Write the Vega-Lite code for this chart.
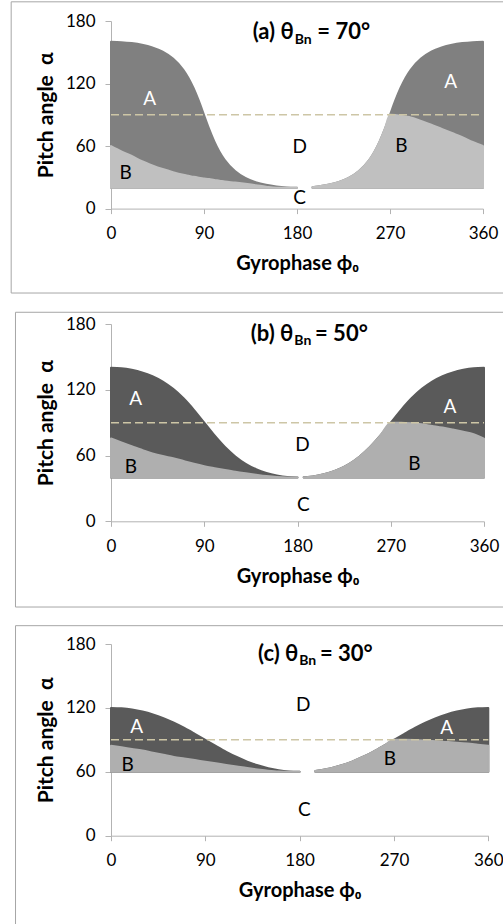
{
  "$schema": "https://vega.github.io/schema/vega-lite/v6.json",
  "padding": {"left": 10, "top": 1, "right": 0, "bottom": 0},
  "config": {
    "view": {"stroke": null},
    "font": "Lato, Noto Sans",
    "axis": {"domainColor": "#b3b3b3", "tickColor": "#b3b3b3", "labelColor": "#000000", "titleColor": "#000000", "labelFontSize": 17, "titleFontSize": 20, "titleFontWeight": "bold", "labelFont": "Lato, Noto Sans", "titleFont": "Lato, Noto Sans", "grid": false, "labelFlush": false},
    "text": {"font": "Lato, Noto Sans"}
  },
  "datasets": {
    "curves": [
      {"p": "a", "s": "L", "phi": 0, "lo": 20, "top": 160, "b": 60},
      {"p": "a", "s": "L", "phi": 10, "lo": 20, "top": 159.7, "b": 55},
      {"p": "a", "s": "L", "phi": 20, "lo": 20, "top": 158.8, "b": 50.5},
      {"p": "a", "s": "L", "phi": 30, "lo": 20, "top": 157.2, "b": 45.5},
      {"p": "a", "s": "L", "phi": 40, "lo": 20, "top": 154.6, "b": 41.5},
      {"p": "a", "s": "L", "phi": 50, "lo": 20, "top": 150.5, "b": 38},
      {"p": "a", "s": "L", "phi": 60, "lo": 20, "top": 143.9, "b": 35},
      {"p": "a", "s": "L", "phi": 70, "lo": 20, "top": 133.2, "b": 32.5},
      {"p": "a", "s": "L", "phi": 75, "lo": 20, "top": 125.4, "b": 31.5},
      {"p": "a", "s": "L", "phi": 80, "lo": 20, "top": 115.5, "b": 30.5},
      {"p": "a", "s": "L", "phi": 85, "lo": 20, "top": 103.5, "b": 29.7},
      {"p": "a", "s": "L", "phi": 90, "lo": 20, "top": 90, "b": 29},
      {"p": "a", "s": "L", "phi": 95, "lo": 20, "top": 76.5, "b": 28.3},
      {"p": "a", "s": "L", "phi": 100, "lo": 20, "top": 64.5, "b": 27.5},
      {"p": "a", "s": "L", "phi": 105, "lo": 20, "top": 54.6, "b": 26.8},
      {"p": "a", "s": "L", "phi": 110, "lo": 20, "top": 46.8, "b": 26},
      {"p": "a", "s": "L", "phi": 120, "lo": 20, "top": 36.1, "b": 25},
      {"p": "a", "s": "L", "phi": 130, "lo": 20, "top": 29.5, "b": 23.8},
      {"p": "a", "s": "L", "phi": 140, "lo": 20, "top": 25.4, "b": 22.5},
      {"p": "a", "s": "L", "phi": 150, "lo": 20, "top": 22.8, "b": 21},
      {"p": "a", "s": "L", "phi": 160, "lo": 20, "top": 21.2, "b": 20},
      {"p": "a", "s": "L", "phi": 170, "lo": 20, "top": 20.3, "b": 20},
      {"p": "a", "s": "L", "phi": 180, "lo": 20, "top": 20, "b": 20},
      {"p": "a", "s": "R", "phi": 195, "lo": 20, "top": 20.6, "b": 20.6},
      {"p": "a", "s": "R", "phi": 200, "lo": 20, "top": 21.2, "b": 21.2},
      {"p": "a", "s": "R", "phi": 210, "lo": 20, "top": 22.8, "b": 22.8},
      {"p": "a", "s": "R", "phi": 220, "lo": 20, "top": 25.4, "b": 25.4},
      {"p": "a", "s": "R", "phi": 230, "lo": 20, "top": 29.5, "b": 29.5},
      {"p": "a", "s": "R", "phi": 240, "lo": 20, "top": 36.1, "b": 36.1},
      {"p": "a", "s": "R", "phi": 250, "lo": 20, "top": 46.8, "b": 46.8},
      {"p": "a", "s": "R", "phi": 255, "lo": 20, "top": 54.6, "b": 54.6},
      {"p": "a", "s": "R", "phi": 260, "lo": 20, "top": 64.5, "b": 64.5},
      {"p": "a", "s": "R", "phi": 265, "lo": 20, "top": 76.5, "b": 76.5},
      {"p": "a", "s": "R", "phi": 270, "lo": 20, "top": 90, "b": 90},
      {"p": "a", "s": "R", "phi": 275, "lo": 20, "top": 103.5, "b": 89.7},
      {"p": "a", "s": "R", "phi": 280, "lo": 20, "top": 115.5, "b": 89},
      {"p": "a", "s": "R", "phi": 285, "lo": 20, "top": 125.4, "b": 88.3},
      {"p": "a", "s": "R", "phi": 290, "lo": 20, "top": 133.2, "b": 87.5},
      {"p": "a", "s": "R", "phi": 300, "lo": 20, "top": 143.9, "b": 84},
      {"p": "a", "s": "R", "phi": 310, "lo": 20, "top": 150.5, "b": 80.5},
      {"p": "a", "s": "R", "phi": 320, "lo": 20, "top": 154.6, "b": 76.5},
      {"p": "a", "s": "R", "phi": 330, "lo": 20, "top": 157.2, "b": 72.5},
      {"p": "a", "s": "R", "phi": 340, "lo": 20, "top": 158.8, "b": 68.5},
      {"p": "a", "s": "R", "phi": 350, "lo": 20, "top": 159.7, "b": 64},
      {"p": "a", "s": "R", "phi": 360, "lo": 20, "top": 160, "b": 60},

      {"p": "b", "s": "L", "phi": 0, "lo": 40, "top": 140, "b": 75.5},
      {"p": "b", "s": "L", "phi": 10, "lo": 40, "top": 139.6, "b": 72},
      {"p": "b", "s": "L", "phi": 20, "lo": 40, "top": 138.2, "b": 68.5},
      {"p": "b", "s": "L", "phi": 30, "lo": 40, "top": 135.9, "b": 65.2},
      {"p": "b", "s": "L", "phi": 40, "lo": 40, "top": 132.4, "b": 62},
      {"p": "b", "s": "L", "phi": 50, "lo": 40, "top": 127.5, "b": 59.5},
      {"p": "b", "s": "L", "phi": 60, "lo": 40, "top": 120.8, "b": 57.5},
      {"p": "b", "s": "L", "phi": 70, "lo": 40, "top": 112.2, "b": 55},
      {"p": "b", "s": "L", "phi": 80, "lo": 40, "top": 101.7, "b": 52.5},
      {"p": "b", "s": "L", "phi": 90, "lo": 40, "top": 90, "b": 50.3},
      {"p": "b", "s": "L", "phi": 100, "lo": 40, "top": 78.3, "b": 48.5},
      {"p": "b", "s": "L", "phi": 110, "lo": 40, "top": 67.8, "b": 46.8},
      {"p": "b", "s": "L", "phi": 120, "lo": 40, "top": 59.2, "b": 45.2},
      {"p": "b", "s": "L", "phi": 130, "lo": 40, "top": 52.5, "b": 43.8},
      {"p": "b", "s": "L", "phi": 140, "lo": 40, "top": 47.6, "b": 42.5},
      {"p": "b", "s": "L", "phi": 150, "lo": 40, "top": 44.1, "b": 41.3},
      {"p": "b", "s": "L", "phi": 160, "lo": 40, "top": 41.8, "b": 40.4},
      {"p": "b", "s": "L", "phi": 170, "lo": 40, "top": 40.4, "b": 40},
      {"p": "b", "s": "L", "phi": 180, "lo": 40, "top": 40, "b": 40},
      {"p": "b", "s": "R", "phi": 186, "lo": 40, "top": 40.15, "b": 40.15},
      {"p": "b", "s": "R", "phi": 190, "lo": 40, "top": 40.4, "b": 40.4},
      {"p": "b", "s": "R", "phi": 200, "lo": 40, "top": 41.8, "b": 41.8},
      {"p": "b", "s": "R", "phi": 210, "lo": 40, "top": 44.1, "b": 44.1},
      {"p": "b", "s": "R", "phi": 220, "lo": 40, "top": 47.6, "b": 47.6},
      {"p": "b", "s": "R", "phi": 230, "lo": 40, "top": 52.5, "b": 52.5},
      {"p": "b", "s": "R", "phi": 240, "lo": 40, "top": 59.2, "b": 59.2},
      {"p": "b", "s": "R", "phi": 250, "lo": 40, "top": 67.8, "b": 67.8},
      {"p": "b", "s": "R", "phi": 260, "lo": 40, "top": 78.3, "b": 78.3},
      {"p": "b", "s": "R", "phi": 270, "lo": 40, "top": 90, "b": 90},
      {"p": "b", "s": "R", "phi": 280, "lo": 40, "top": 101.7, "b": 90},
      {"p": "b", "s": "R", "phi": 290, "lo": 40, "top": 112.2, "b": 89.5},
      {"p": "b", "s": "R", "phi": 300, "lo": 40, "top": 120.8, "b": 88.5},
      {"p": "b", "s": "R", "phi": 310, "lo": 40, "top": 127.5, "b": 87},
      {"p": "b", "s": "R", "phi": 320, "lo": 40, "top": 132.4, "b": 85.5},
      {"p": "b", "s": "R", "phi": 330, "lo": 40, "top": 135.9, "b": 83.7},
      {"p": "b", "s": "R", "phi": 340, "lo": 40, "top": 138.2, "b": 81.8},
      {"p": "b", "s": "R", "phi": 350, "lo": 40, "top": 139.6, "b": 79.5},
      {"p": "b", "s": "R", "phi": 360, "lo": 40, "top": 140, "b": 75.5},

      {"p": "c", "s": "L", "phi": 0, "lo": 60, "top": 120, "b": 84.5},
      {"p": "c", "s": "L", "phi": 10, "lo": 60, "top": 119.6, "b": 83},
      {"p": "c", "s": "L", "phi": 20, "lo": 60, "top": 118.5, "b": 81.5},
      {"p": "c", "s": "L", "phi": 30, "lo": 60, "top": 116.6, "b": 80},
      {"p": "c", "s": "L", "phi": 40, "lo": 60, "top": 113.9, "b": 78},
      {"p": "c", "s": "L", "phi": 50, "lo": 60, "top": 110.4, "b": 76},
      {"p": "c", "s": "L", "phi": 60, "lo": 60, "top": 106.1, "b": 74},
      {"p": "c", "s": "L", "phi": 70, "lo": 60, "top": 101.2, "b": 72.5},
      {"p": "c", "s": "L", "phi": 80, "lo": 60, "top": 95.7, "b": 71},
      {"p": "c", "s": "L", "phi": 90, "lo": 60, "top": 90, "b": 69.5},
      {"p": "c", "s": "L", "phi": 100, "lo": 60, "top": 84.3, "b": 68},
      {"p": "c", "s": "L", "phi": 110, "lo": 60, "top": 78.8, "b": 66.5},
      {"p": "c", "s": "L", "phi": 120, "lo": 60, "top": 73.9, "b": 65},
      {"p": "c", "s": "L", "phi": 130, "lo": 60, "top": 69.6, "b": 63.5},
      {"p": "c", "s": "L", "phi": 140, "lo": 60, "top": 66.1, "b": 62.2},
      {"p": "c", "s": "L", "phi": 150, "lo": 60, "top": 63.4, "b": 61},
      {"p": "c", "s": "L", "phi": 160, "lo": 60, "top": 61.5, "b": 60.2},
      {"p": "c", "s": "L", "phi": 170, "lo": 60, "top": 60.4, "b": 60},
      {"p": "c", "s": "L", "phi": 180, "lo": 60, "top": 60, "b": 60},
      {"p": "c", "s": "R", "phi": 195, "lo": 60, "top": 60.85, "b": 60.85},
      {"p": "c", "s": "R", "phi": 200, "lo": 60, "top": 61.5, "b": 61.5},
      {"p": "c", "s": "R", "phi": 210, "lo": 60, "top": 63.4, "b": 63.4},
      {"p": "c", "s": "R", "phi": 220, "lo": 60, "top": 66.1, "b": 66.1},
      {"p": "c", "s": "R", "phi": 230, "lo": 60, "top": 69.6, "b": 69.6},
      {"p": "c", "s": "R", "phi": 240, "lo": 60, "top": 73.9, "b": 73.9},
      {"p": "c", "s": "R", "phi": 250, "lo": 60, "top": 78.8, "b": 78.8},
      {"p": "c", "s": "R", "phi": 260, "lo": 60, "top": 84.3, "b": 84.3},
      {"p": "c", "s": "R", "phi": 270, "lo": 60, "top": 90, "b": 90},
      {"p": "c", "s": "R", "phi": 280, "lo": 60, "top": 95.7, "b": 90},
      {"p": "c", "s": "R", "phi": 290, "lo": 60, "top": 101.2, "b": 89.8},
      {"p": "c", "s": "R", "phi": 300, "lo": 60, "top": 106.1, "b": 89.3},
      {"p": "c", "s": "R", "phi": 310, "lo": 60, "top": 110.4, "b": 88.7},
      {"p": "c", "s": "R", "phi": 320, "lo": 60, "top": 113.9, "b": 88},
      {"p": "c", "s": "R", "phi": 330, "lo": 60, "top": 116.6, "b": 87.3},
      {"p": "c", "s": "R", "phi": 340, "lo": 60, "top": 118.5, "b": 86.5},
      {"p": "c", "s": "R", "phi": 350, "lo": 60, "top": 119.6, "b": 85.5},
      {"p": "c", "s": "R", "phi": 360, "lo": 60, "top": 120, "b": 84.5}
    ],
    "labels": [
      {"p": "a", "t": "A", "phi": 37.5, "alpha": 104.9},
      {"p": "a", "t": "A", "phi": 328.8, "alpha": 121.5},
      {"p": "a", "t": "D", "phi": 182.6, "alpha": 59.1},
      {"p": "a", "t": "B", "phi": 14.2, "alpha": 34.2},
      {"p": "a", "t": "B", "phi": 281, "alpha": 60.1},
      {"p": "a", "t": "C", "phi": 182.6, "alpha": 10.6},
      {"p": "b", "t": "A", "phi": 23.8, "alpha": 112},
      {"p": "b", "t": "A", "phi": 327.2, "alpha": 104},
      {"p": "b", "t": "D", "phi": 184.7, "alpha": 69.3},
      {"p": "b", "t": "B", "phi": 19.3, "alpha": 49.5},
      {"p": "b", "t": "B", "phi": 292.8, "alpha": 52.6},
      {"p": "b", "t": "C", "phi": 185.6, "alpha": 15.2},
      {"p": "c", "t": "A", "phi": 24.5, "alpha": 101.7},
      {"p": "c", "t": "A", "phi": 320.3, "alpha": 101.1},
      {"p": "c", "t": "D", "phi": 183.5, "alpha": 123},
      {"p": "c", "t": "B", "phi": 15.9, "alpha": 66.7},
      {"p": "c", "t": "B", "phi": 266.2, "alpha": 72},
      {"p": "c", "t": "C", "phi": 184.4, "alpha": 24.1}
    ],
    "titles": [
      {"p": "a", "part": "main", "phi": 176.8, "alpha": 163.1, "t": "(a) θ"},
      {"p": "a", "part": "sub", "phi": 176.8, "alpha": 158.1, "t": "Bn"},
      {"p": "a", "part": "rest", "phi": 199.7, "alpha": 163.1, "t": "= 70°"},
      {"p": "b", "part": "main", "phi": 176, "alpha": 164.9, "t": "(b) θ"},
      {"p": "b", "part": "sub", "phi": 176, "alpha": 160.6, "t": "Bn"},
      {"p": "b", "part": "rest", "phi": 196.9, "alpha": 164.9, "t": "= 50°"},
      {"p": "c", "part": "main", "phi": 178.7, "alpha": 164.3, "t": "(c) θ"},
      {"p": "c", "part": "sub", "phi": 178.7, "alpha": 160.3, "t": "Bn"},
      {"p": "c", "part": "rest", "phi": 199.4, "alpha": 164.3, "t": "= 30°"}
    ]
  },
  "columns": 1,
  "align": "none",
  "bounds": "full",
  "spacing": 17,
  "concat": [
    {
      "width": 372, "height": 187.6,
      "layer": [
        {"data": {"values": [{}]}, "mark": {"type": "rect", "filled": false, "color": "#a6a6a6", "strokeWidth": 1},
         "encoding": {"x": {"datum": -96.6}, "x2": {"datum": 391.7}, "y": {"datum": 198.4}, "y2": {"datum": -81}}},
        {"data": {"name": "curves"}, "transform": [{"filter": "datum.p === 'a'"}],
         "mark": {"type": "area", "color": "#808080", "stroke": "#808080", "strokeWidth": 2, "strokeJoin": "round", "interpolate": "monotone"},
         "encoding": {
           "x": {"field": "phi", "type": "quantitative", "scale": {"domain": [0, 360], "nice": false},
                 "axis": {"values": [0, 90, 180, 270, 360], "title": "Gyrophase ϕ₀", "tickSize": 5, "labelPadding": 12, "titlePadding": 12}},
           "y": {"field": "top", "type": "quantitative", "scale": {"domain": [0, 180], "nice": false},
                 "axis": {"values": [0, 60, 120, 180], "title": "Pitch angle\u00a0\u00a0α", "titleFontSize": 21, "tickSize": 6, "labelPadding": 10, "titlePadding": 9}},
           "y2": {"field": "lo"}, "detail": {"field": "s"}}},
        {"data": {"name": "curves"}, "transform": [{"filter": "datum.p === 'a'"}],
         "mark": {"type": "area", "color": "#c0c0c0", "stroke": "#c0c0c0", "strokeWidth": 2, "strokeJoin": "round", "interpolate": "monotone"},
         "encoding": {"x": {"field": "phi", "type": "quantitative"}, "y": {"field": "b", "type": "quantitative"}, "y2": {"field": "lo"}, "detail": {"field": "s"}}},
        {"data": {"values": [{}]}, "mark": {"type": "rule", "color": "#cdc6a6", "strokeWidth": 1.5, "strokeDash": [8, 4]},
         "encoding": {"x": {"datum": 0}, "x2": {"datum": 360}, "y": {"datum": 90}}},
        {"data": {"name": "labels"}, "transform": [{"filter": "datum.p === 'a'"}],
         "mark": {"type": "text", "fontSize": 19, "align": "center", "baseline": "middle"},
         "encoding": {"x": {"field": "phi", "type": "quantitative"}, "y": {"field": "alpha", "type": "quantitative"}, "text": {"field": "t"},
           "color": {"field": "t", "type": "nominal", "scale": {"domain": ["A", "B", "C", "D"], "range": ["#ffffff", "#000000", "#000000", "#000000"]}, "legend": null}}},
        {"data": {"name": "titles"}, "transform": [{"filter": "datum.p === 'a' && datum.part === 'main'"}],
         "mark": {"type": "text", "fontSize": 22, "fontWeight": "bold", "align": "right", "baseline": "alphabetic", "color": "#000000"},
         "encoding": {"x": {"field": "phi", "type": "quantitative"}, "y": {"field": "alpha", "type": "quantitative"}, "text": {"field": "t"}}},
        {"data": {"name": "titles"}, "transform": [{"filter": "datum.p === 'a' && datum.part === 'sub'"}],
         "mark": {"type": "text", "fontSize": 14, "fontWeight": "bold", "align": "left", "baseline": "alphabetic", "dx": 1, "color": "#000000"},
         "encoding": {"x": {"field": "phi", "type": "quantitative"}, "y": {"field": "alpha", "type": "quantitative"}, "text": {"field": "t"}}},
        {"data": {"name": "titles"}, "transform": [{"filter": "datum.p === 'a' && datum.part === 'rest'"}],
         "mark": {"type": "text", "fontSize": 22, "fontWeight": "bold", "align": "left", "baseline": "alphabetic", "color": "#000000"},
         "encoding": {"x": {"field": "phi", "type": "quantitative"}, "y": {"field": "alpha", "type": "quantitative"}, "text": {"field": "t"}}}
      ]
    },
    {
      "width": 373, "height": 197.3,
      "layer": [
        {"data": {"values": [{}]}, "mark": {"type": "rect", "filled": false, "color": "#a6a6a6", "strokeWidth": 1},
         "encoding": {"x": {"datum": -92.2}, "x2": {"datum": 394.8}, "y": {"datum": 190.7}, "y2": {"datum": -78.2}}},
        {"data": {"name": "curves"}, "transform": [{"filter": "datum.p === 'b'"}],
         "mark": {"type": "area", "color": "#5a5a5a", "stroke": "#5a5a5a", "strokeWidth": 2, "strokeJoin": "round", "interpolate": "monotone"},
         "encoding": {
           "x": {"field": "phi", "type": "quantitative", "scale": {"domain": [0, 360], "nice": false},
                 "axis": {"values": [0, 90, 180, 270, 360], "title": "Gyrophase ϕ₀", "tickSize": 5, "labelPadding": 12, "titlePadding": 12}},
           "y": {"field": "top", "type": "quantitative", "scale": {"domain": [0, 180], "nice": false},
                 "axis": {"values": [0, 60, 120, 180], "title": "Pitch angle\u00a0\u00a0α", "titleFontSize": 21, "tickSize": 6, "labelPadding": 10, "titlePadding": 9}},
           "y2": {"field": "lo"}, "detail": {"field": "s"}}},
        {"data": {"name": "curves"}, "transform": [{"filter": "datum.p === 'b'"}],
         "mark": {"type": "area", "color": "#afafaf", "stroke": "#afafaf", "strokeWidth": 2, "strokeJoin": "round", "interpolate": "monotone"},
         "encoding": {"x": {"field": "phi", "type": "quantitative"}, "y": {"field": "b", "type": "quantitative"}, "y2": {"field": "lo"}, "detail": {"field": "s"}}},
        {"data": {"values": [{}]}, "mark": {"type": "rule", "color": "#cdc6a6", "strokeWidth": 1.5, "strokeDash": [8, 4]},
         "encoding": {"x": {"datum": 0}, "x2": {"datum": 360}, "y": {"datum": 90}}},
        {"data": {"name": "labels"}, "transform": [{"filter": "datum.p === 'b'"}],
         "mark": {"type": "text", "fontSize": 19, "align": "center", "baseline": "middle"},
         "encoding": {"x": {"field": "phi", "type": "quantitative"}, "y": {"field": "alpha", "type": "quantitative"}, "text": {"field": "t"},
           "color": {"field": "t", "type": "nominal", "scale": {"domain": ["A", "B", "C", "D"], "range": ["#ffffff", "#000000", "#000000", "#000000"]}, "legend": null}}},
        {"data": {"name": "titles"}, "transform": [{"filter": "datum.p === 'b' && datum.part === 'main'"}],
         "mark": {"type": "text", "fontSize": 22, "fontWeight": "bold", "align": "right", "baseline": "alphabetic", "color": "#000000"},
         "encoding": {"x": {"field": "phi", "type": "quantitative"}, "y": {"field": "alpha", "type": "quantitative"}, "text": {"field": "t"}}},
        {"data": {"name": "titles"}, "transform": [{"filter": "datum.p === 'b' && datum.part === 'sub'"}],
         "mark": {"type": "text", "fontSize": 14, "fontWeight": "bold", "align": "left", "baseline": "alphabetic", "dx": 1, "color": "#000000"},
         "encoding": {"x": {"field": "phi", "type": "quantitative"}, "y": {"field": "alpha", "type": "quantitative"}, "text": {"field": "t"}}},
        {"data": {"name": "titles"}, "transform": [{"filter": "datum.p === 'b' && datum.part === 'rest'"}],
         "mark": {"type": "text", "fontSize": 22, "fontWeight": "bold", "align": "left", "baseline": "alphabetic", "color": "#000000"},
         "encoding": {"x": {"field": "phi", "type": "quantitative"}, "y": {"field": "alpha", "type": "quantitative"}, "text": {"field": "t"}}}
      ]
    },
    {
      "width": 377.3, "height": 191.7,
      "layer": [
        {"data": {"values": [{}]}, "mark": {"type": "rect", "filled": false, "color": "#a6a6a6", "strokeWidth": 1},
         "encoding": {"x": {"datum": -91.1}, "x2": {"datum": 390.3}, "y": {"datum": 197.2}, "y2": {"datum": -98.6}}},
        {"data": {"name": "curves"}, "transform": [{"filter": "datum.p === 'c'"}],
         "mark": {"type": "area", "color": "#5a5a5a", "stroke": "#5a5a5a", "strokeWidth": 2, "strokeJoin": "round", "interpolate": "monotone"},
         "encoding": {
           "x": {"field": "phi", "type": "quantitative", "scale": {"domain": [0, 360], "nice": false},
                 "axis": {"values": [0, 90, 180, 270, 360], "title": "Gyrophase ϕ₀", "tickSize": 5, "labelPadding": 12, "titlePadding": 12}},
           "y": {"field": "top", "type": "quantitative", "scale": {"domain": [0, 180], "nice": false},
                 "axis": {"values": [0, 60, 120, 180], "title": "Pitch angle\u00a0\u00a0α", "titleFontSize": 21, "tickSize": 6, "labelPadding": 10, "titlePadding": 9}},
           "y2": {"field": "lo"}, "detail": {"field": "s"}}},
        {"data": {"name": "curves"}, "transform": [{"filter": "datum.p === 'c'"}],
         "mark": {"type": "area", "color": "#afafaf", "stroke": "#afafaf", "strokeWidth": 2, "strokeJoin": "round", "interpolate": "monotone"},
         "encoding": {"x": {"field": "phi", "type": "quantitative"}, "y": {"field": "b", "type": "quantitative"}, "y2": {"field": "lo"}, "detail": {"field": "s"}}},
        {"data": {"values": [{}]}, "mark": {"type": "rule", "color": "#cdc6a6", "strokeWidth": 1.5, "strokeDash": [8, 4]},
         "encoding": {"x": {"datum": 0}, "x2": {"datum": 360}, "y": {"datum": 90}}},
        {"data": {"name": "labels"}, "transform": [{"filter": "datum.p === 'c'"}],
         "mark": {"type": "text", "fontSize": 19, "align": "center", "baseline": "middle"},
         "encoding": {"x": {"field": "phi", "type": "quantitative"}, "y": {"field": "alpha", "type": "quantitative"}, "text": {"field": "t"},
           "color": {"field": "t", "type": "nominal", "scale": {"domain": ["A", "B", "C", "D"], "range": ["#ffffff", "#000000", "#000000", "#000000"]}, "legend": null}}},
        {"data": {"name": "titles"}, "transform": [{"filter": "datum.p === 'c' && datum.part === 'main'"}],
         "mark": {"type": "text", "fontSize": 22, "fontWeight": "bold", "align": "right", "baseline": "alphabetic", "color": "#000000"},
         "encoding": {"x": {"field": "phi", "type": "quantitative"}, "y": {"field": "alpha", "type": "quantitative"}, "text": {"field": "t"}}},
        {"data": {"name": "titles"}, "transform": [{"filter": "datum.p === 'c' && datum.part === 'sub'"}],
         "mark": {"type": "text", "fontSize": 14, "fontWeight": "bold", "align": "left", "baseline": "alphabetic", "dx": 1, "color": "#000000"},
         "encoding": {"x": {"field": "phi", "type": "quantitative"}, "y": {"field": "alpha", "type": "quantitative"}, "text": {"field": "t"}}},
        {"data": {"name": "titles"}, "transform": [{"filter": "datum.p === 'c' && datum.part === 'rest'"}],
         "mark": {"type": "text", "fontSize": 22, "fontWeight": "bold", "align": "left", "baseline": "alphabetic", "color": "#000000"},
         "encoding": {"x": {"field": "phi", "type": "quantitative"}, "y": {"field": "alpha", "type": "quantitative"}, "text": {"field": "t"}}}
      ]
    }
  ]
}
